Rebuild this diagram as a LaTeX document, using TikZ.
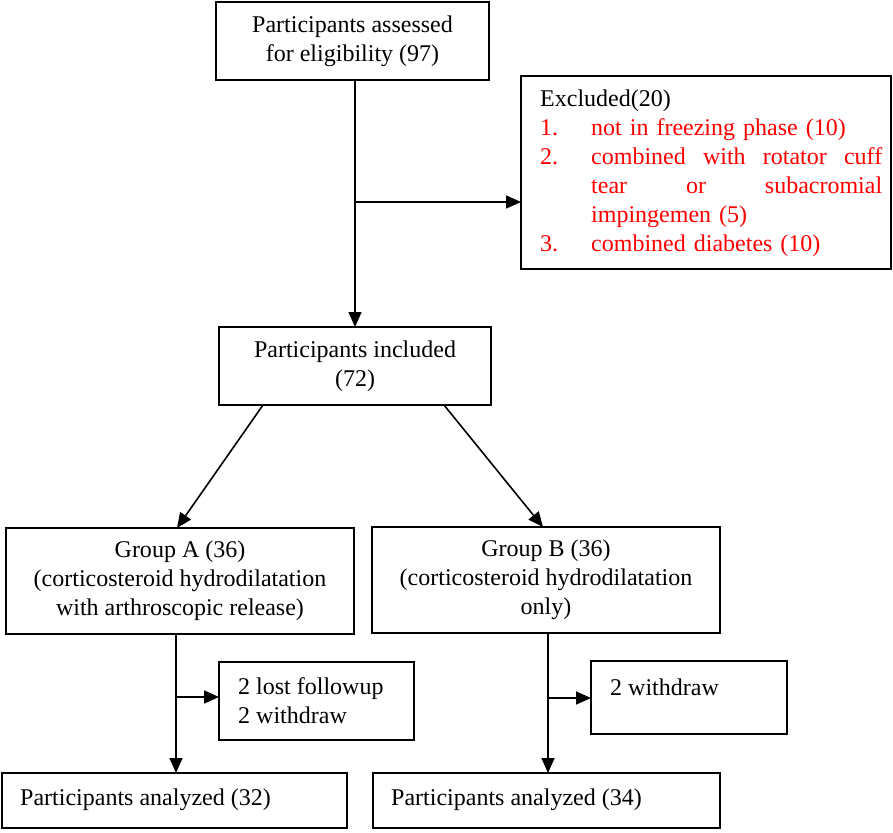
\documentclass[tikz,border=0pt]{standalone}
\usepackage{fontspec}
\setmainfont{Liberation Serif}
\usetikzlibrary{arrows.meta}
\tikzset{
  box/.style={draw, line width=1.7pt, inner sep=0pt, outer sep=0pt, font=\fontsize{24}{29}\selectfont},
  arr/.style={line width=1.6pt, -{Triangle[length=15pt,width=13pt]}},
  txt/.style={font=\fontsize{24}{29}\selectfont, inner sep=0pt},
}
\begin{document}
\begin{tikzpicture}[x=1pt,y=-1pt]
\useasboundingbox (0,0) rectangle (893,832);
% top box
\node[box, minimum width=273pt, minimum height=78pt, align=center] (top) at (352.5,41) {Participants assessed\\for eligibility (97)};
% excluded
\node[box, minimum width=370pt, minimum height=193pt] (excl) at (706,172.5) {};
\node[txt, text width=342pt, align=left, anchor=west] (excltxt) at (540,173) {Excluded(20)\\
\textcolor{red}{\makebox[51pt][l]{1.}not in freezing phase (10)}\\
\textcolor{red}{\makebox[51pt][l]{2.}\makebox[291pt][l]{combined\hfill with\hfill rotator\hfill cuff}}\\
\textcolor{red}{\makebox[51pt][l]{}\makebox[291pt][l]{tear\hfill or\hfill subacromial}}\\
\textcolor{red}{\makebox[51pt][l]{}impingemen (5)}\\
\textcolor{red}{\makebox[51pt][l]{3.}combined diabetes (10)}};
% included
\node[box, minimum width=272pt, minimum height=78pt, align=center] (incl) at (355,366) {Participants included\\(72)};
% groups
\node[box, minimum width=348pt, minimum height=106pt, align=center] (ga) at (180,581) {Group A (36)\\(corticosteroid hydrodilatation\\with arthroscopic release)};
\node[box, minimum width=348pt, minimum height=106pt, align=center] (gb) at (546,580) {Group B (36)\\(corticosteroid hydrodilatation\\only)};
% side boxes
\node[box, minimum width=195pt, minimum height=78pt] (sa) at (316.5,701) {};
\node[txt, align=left, anchor=west] (satxt) at (238,701) {2 lost followup\\2 withdraw};
\node[box, minimum width=196pt, minimum height=73pt] (sb) at (689,697.5) {};
\node[txt, align=left, anchor=west] (sbtxt) at (610,687) {2 withdraw};
% bottom boxes
\node[box, minimum width=345pt, minimum height=55pt] (ba) at (174.5,800.5) {};
\node[txt, anchor=west] (batxt) at (20,800) {Participants analyzed (32)};
\node[box, minimum width=347pt, minimum height=55pt] (bb) at (546.5,800.5) {};
\node[txt, anchor=west] (bbtxt) at (391,800) {Participants analyzed (34)};
% connectors
\coordinate (brT) at ([yshift=-122pt]incl.north |- top.south);
\draw[arr] (incl.north |- top.south) -- (incl.north);
\draw[arr] (brT) -- (brT -| excl.west);
\draw[arr] ([xshift=-92pt]incl.south) -- ([xshift=-3pt]ga.north);
\draw[arr] ([xshift=89pt]incl.south) -- ([xshift=-3pt]gb.north);
\coordinate (brA) at ([xshift=-4pt,yshift=-63pt]ga.south);
\draw[arr] ([xshift=-4pt]ga.south) -- ([xshift=-4pt]ga.south |- ba.north);
\draw[arr] (brA) -- (brA -| sa.west);
\coordinate (brB) at ([xshift=2pt,yshift=-65pt]gb.south);
\draw[arr] ([xshift=2pt]gb.south) -- ([xshift=2pt]gb.south |- bb.north);
\draw[arr] (brB) -- (brB -| sb.west);
\end{tikzpicture}
\end{document}
